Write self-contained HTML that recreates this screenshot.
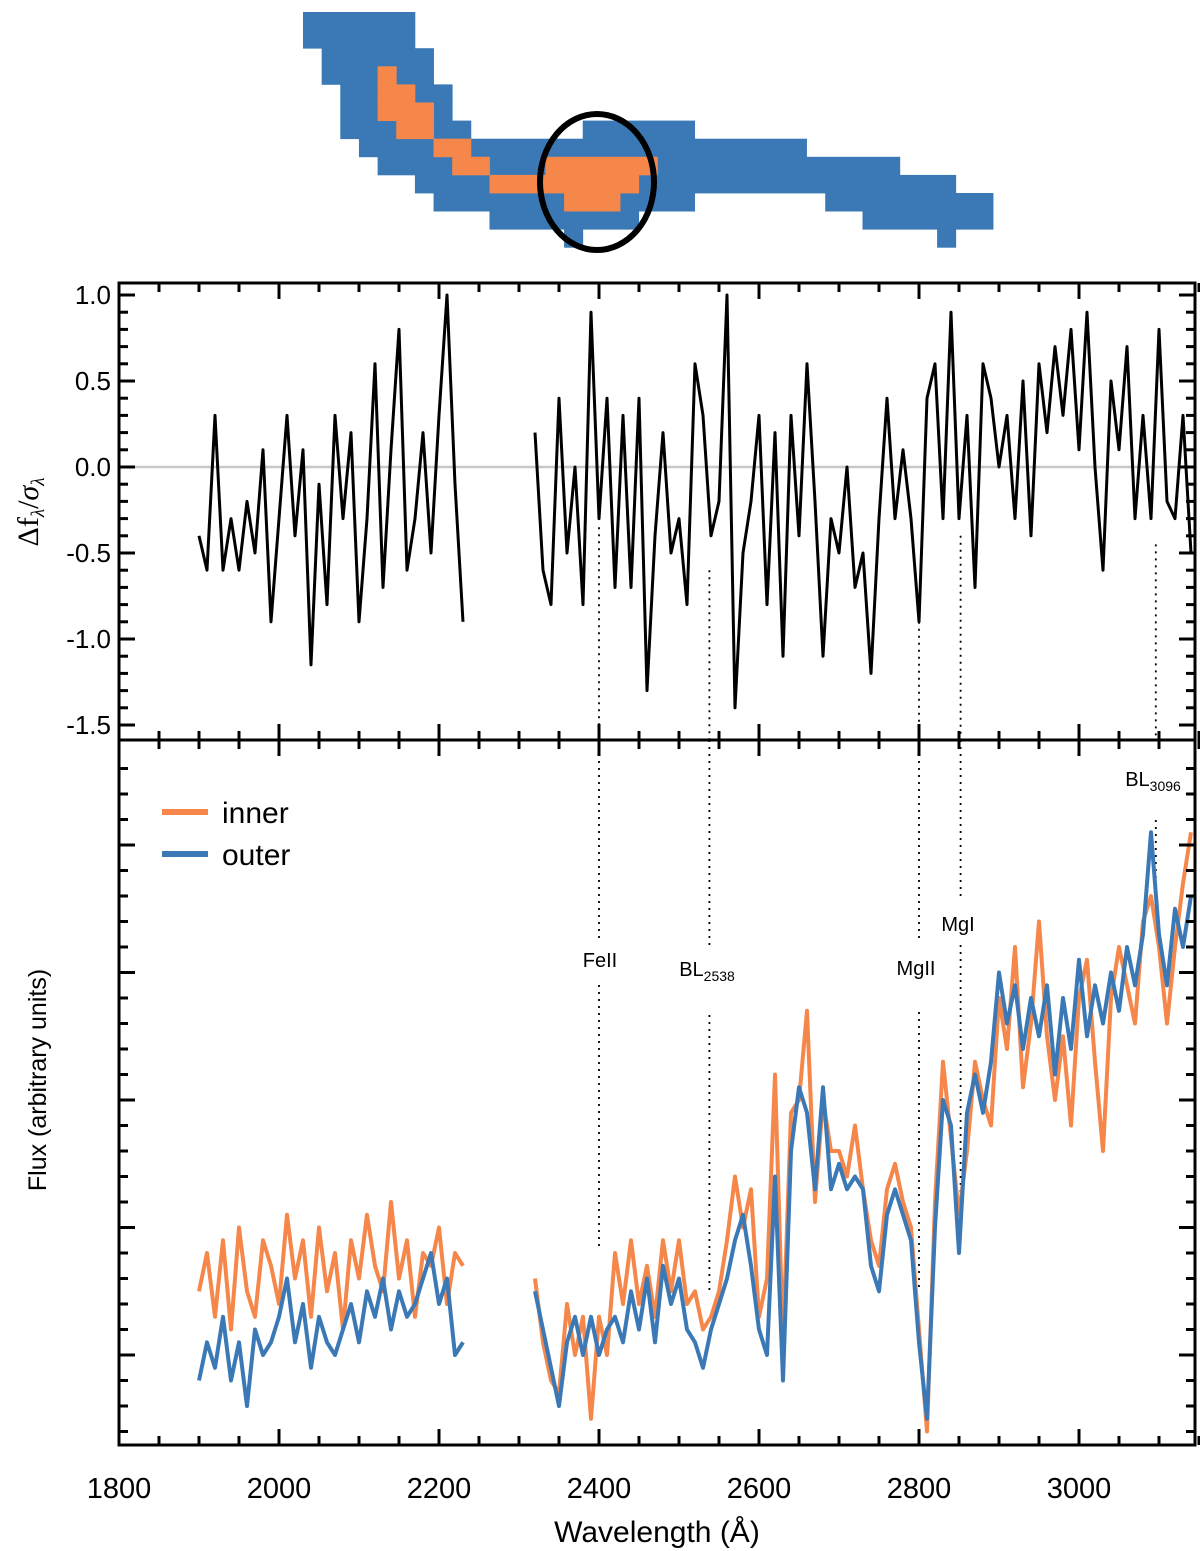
<!DOCTYPE html>
<html><head><meta charset="utf-8">
<style>
html,body{margin:0;padding:0;background:#fff;}
svg{display:block;font-family:"Liberation Sans",Arial,sans-serif;}
</style></head>
<body>
<svg id="chart" width="1200" height="1551" viewBox="0 0 1200 1551" xmlns="http://www.w3.org/2000/svg">
<g id="mask"></g>
<ellipse cx="597" cy="182" rx="57" ry="68" fill="none" stroke="#000" stroke-width="6"/>
<g id="topPanel"></g>
<g id="botPanel"></g>
<text transform="translate(38,512) rotate(-90)" text-anchor="middle" font-size="30" font-family="Liberation Serif, serif">Δf<tspan font-size="19" dy="6" font-style="italic">λ</tspan><tspan dy="-6">/</tspan><tspan font-style="italic">σ</tspan><tspan font-size="19" dy="6" font-style="italic">λ</tspan></text>
<text transform="translate(46,1080) rotate(-90)" text-anchor="middle" font-size="25">Flux (arbitrary units)</text>
<text x="657" y="1542" text-anchor="middle" font-size="30">Wavelength (Å)</text>
<g>
<line x1="162" y1="812" x2="208" y2="812" stroke="#F5874A" stroke-width="6"/>
<text x="222" y="823" font-size="30">inner</text>
<line x1="162" y1="854" x2="208" y2="854" stroke="#3B79B6" stroke-width="6"/>
<text x="222" y="865" font-size="30">outer</text>
</g>
</svg>
<script>
// ---- data ----
const wlLeft = [1900,1910,1920,1930,1940,1950,1960,1970,1980,1990,2000,2010,2020,2030,2040,2050,2060,2070,2080,2090,2100,2110,2120,2130,2140,2150,2160,2170,2180,2190,2200,2210,2220,2230];
const wlRight = [2320,2330,2340,2350,2360,2370,2380,2390,2400,2410,2420,2430,2440,2450,2460,2470,2480,2490,2500,2510,2520,2530,2540,2550,2560,2570,2580,2590,2600,2610,2620,2630,2640,2650,2660,2670,2680,2690,2700,2710,2720,2730,2740,2750,2760,2770,2780,2790,2800,2810,2820,2830,2840,2850,2860,2870,2880,2890,2900,2910,2920,2930,2940,2950,2960,2970,2980,2990,3000,3010,3020,3030,3040,3050,3060,3070,3080,3090,3100,3110,3120,3130,3140];
const residLeft = [-0.4,-0.6,0.3,-0.6,-0.3,-0.6,-0.2,-0.5,0.1,-0.9,-0.3,0.3,-0.4,0.1,-1.15,-0.1,-0.8,0.3,-0.3,0.2,-0.9,-0.3,0.6,-0.7,0.1,0.8,-0.6,-0.3,0.2,-0.5,0.3,1.0,-0.1,-0.9];
const residRight = [0.2,-0.6,-0.8,0.4,-0.5,0.0,-0.8,0.9,-0.3,0.4,-0.7,0.3,-0.7,0.4,-1.3,-0.4,0.2,-0.5,-0.3,-0.8,0.6,0.3,-0.4,-0.2,1.0,-1.4,-0.5,-0.2,0.3,-0.8,0.2,-1.1,0.3,-0.4,0.6,-0.2,-1.1,-0.3,-0.5,0.0,-0.7,-0.5,-1.2,-0.3,0.4,-0.3,0.1,-0.3,-0.9,0.4,0.6,-0.3,0.9,-0.3,0.3,-0.7,0.6,0.4,0.0,0.3,-0.3,0.5,-0.4,0.6,0.2,0.7,0.3,0.8,0.1,0.9,0.0,-0.6,0.5,0.1,0.7,-0.3,0.3,-0.3,0.8,-0.2,-0.3,0.3,-0.5];
const innerLeft = [1.5,1.8,1.3,1.9,1.2,2.0,1.5,1.3,1.9,1.7,1.4,2.1,1.6,1.9,1.3,2.0,1.5,1.8,1.2,1.9,1.6,2.1,1.7,1.5,2.2,1.6,1.9,1.3,1.8,1.7,2.0,1.4,1.8,1.7];
const outerLeft = [0.8,1.1,0.9,1.3,0.8,1.1,0.6,1.2,1.0,1.1,1.3,1.6,1.1,1.4,0.9,1.3,1.1,1.0,1.2,1.4,1.1,1.5,1.3,1.6,1.2,1.5,1.3,1.4,1.6,1.8,1.4,1.6,1.0,1.1];
const innerRight = [1.6,1.1,0.8,0.7,1.4,1.0,1.3,0.5,1.3,1.0,1.8,1.4,1.9,1.4,1.7,1.3,1.9,1.5,1.9,1.4,1.5,1.2,1.3,1.5,1.9,2.4,2.0,2.3,1.3,1.6,3.2,1.1,2.9,3.0,3.7,2.2,3.0,2.6,2.6,2.4,2.8,2.3,1.9,1.7,2.3,2.5,2.2,2.0,1.2,0.4,2.2,3.3,2.7,2.1,2.6,3.3,3.0,2.8,3.8,3.4,4.2,3.1,3.6,4.4,3.5,3.0,3.5,2.8,3.8,4.1,3.3,2.6,3.8,4.2,3.9,3.6,4.4,4.6,4.2,3.6,4.2,4.7,5.1];
const outerRight = [1.5,1.2,0.9,0.6,1.1,1.3,1.0,1.3,1.0,1.2,1.3,1.1,1.5,1.2,1.6,1.1,1.7,1.4,1.6,1.2,1.1,0.9,1.2,1.4,1.6,1.9,2.1,1.7,1.2,1.0,2.4,0.8,2.6,3.1,2.9,2.3,3.1,2.3,2.5,2.3,2.4,2.3,1.7,1.5,2.1,2.3,2.1,1.9,1.1,0.5,2.0,3.0,2.8,1.8,2.9,3.2,2.9,3.3,4.0,3.6,3.9,3.4,3.8,3.5,3.9,3.2,3.8,3.4,4.1,3.5,3.9,3.6,4.0,3.7,4.2,3.9,4.3,5.1,4.3,3.9,4.5,4.2,4.6];
const xTicks = [1800,2000,2200,2400,2600,2800,3000];
const residTicks = [-1.5,-1.0,-0.5,0.0,0.5,1.0];
const residTickLabels = ["-1.5","-1.0","-0.5","0.0","0.5","1.0"];
const lineNames = ["FeII","BL2538","MgII","MgI","BL3096"];
const lineWl = [2400,2538,2800,2852,3096];

// ---- layout ----
const X0=119, X1=1195, TOP0=283, MID=740, BOT=1445;
const xs = w => X0 + (w-1800)*0.8;
const yr = v => 467 - v*172;
const yf = f => 1355 - (f-1)*127.5;
const NS='http://www.w3.org/2000/svg';
function el(tag, attrs, parent){const e=document.createElementNS(NS,tag);for(const k in attrs)e.setAttribute(k,attrs[k]);parent.appendChild(e);return e;}

// ---- mask image ----
const maskG=document.getElementById('mask');
const blueRuns=[[0,0,5],[1,0,5],[2,1,6],[3,1,6],[4,2,7],[5,2,7],[6,2,8],[6,15,20],[7,3,26],[8,4,31],[9,6,34],[10,7,20],[10,28,36],[11,10,17],[11,30,36],[12,14,14],[12,34,34]];
const orangeRuns=[[3,4,4],[4,4,5],[5,4,6],[6,5,6],[7,7,8],[8,8,9],[8,13,18],[9,10,17],[10,14,16]];
const cw=18.65, ch=18.1, mx0=303, my0=12;
blueRuns.forEach(r=>{const e=el('rect',{x:mx0+r[1]*cw,y:my0+r[0]*ch,width:(r[2]-r[1]+1)*cw+0.4,height:ch+0.4,fill:'#3B79B6'},maskG);

});
orangeRuns.forEach(r=>{const e=el('rect',{x:mx0+r[1]*cw,y:my0+r[0]*ch,width:(r[2]-r[1]+1)*cw+0.4,height:ch+0.4,fill:'#F5874A'},maskG);

});

// ---- panels ----
const topG=document.getElementById('topPanel'), botG=document.getElementById('botPanel');
function path(wl, vals, ys, stroke, sw, parent, name){
  const d=wl.map((w,i)=>(i?'L':'M')+xs(w).toFixed(1)+','+ys(vals[i]).toFixed(1)).join('');
  const p=el('path',{d:d,fill:'none',stroke:stroke,'stroke-width':sw,'stroke-linejoin':'round'},parent);
  
  
}
const z=el('line',{x1:X0,x2:X1,y1:yr(0),y2:yr(0),stroke:'#c8c8c8','stroke-width':2.5},topG);



const topStart=[-0.35,-0.6,-0.9,-0.4,-0.45];
lineWl.forEach((w,i)=>{
  const x=xs(w);
  const a=el('line',{x1:x,x2:x,y1:yr(topStart[i]),y2:MID,stroke:'#000','stroke-width':1.8,'stroke-dasharray':'2,5'},topG);
  
  
});
const segs=[[[740,940],[985,1250]],[[740,945],[1015,1290]],[[740,943],[1012,1290]],[[740,898],[945,1198]],[[820,905]]];
lineWl.forEach((w,i)=>{
  segs[i].forEach(s=>{
    const a=el('line',{x1:xs(w),x2:xs(w),y1:s[0],y2:s[1],stroke:'#000','stroke-width':1.8,'stroke-dasharray':'2,5'},botG);
    
    
  });
});
function lab(x,y,main,sub,name){
  const t=el('text',{x:x,y:y,'text-anchor':'middle','font-size':20},botG);
  
  
  t.textContent=main;
  if(sub){const s=el('tspan',{'font-size':14,dy:5},t);s.textContent=sub;}
}
lab(600,967,'FeII','','label-feii');
lab(707,976,'BL','2538','label-bl2538');
lab(916,975,'MgII','','label-mgii');
lab(958,931,'MgI','','label-mgi');
lab(1153,786,'BL','3096','label-bl3096');

path(wlLeft,residLeft,yr,'#000',3,topG,'residual-line-left');
path(wlRight,residRight,yr,'#000',3,topG,'residual-line-right');
path(wlLeft,innerLeft,yf,'#F5874A',4,botG,'inner-spectrum-left');
path(wlRight,innerRight,yf,'#F5874A',4,botG,'inner-spectrum-right');
path(wlLeft,outerLeft,yf,'#3B79B6',4,botG,'outer-spectrum-left');
path(wlRight,outerRight,yf,'#3B79B6',4,botG,'outer-spectrum-right');

[[TOP0,MID,topG,'residual-frame'],[MID,BOT,botG,'flux-frame']].forEach(f=>{
  const r=el('rect',{x:X0,y:f[0],width:X1-X0,height:f[1]-f[0],fill:'none',stroke:'#000','stroke-width':3},f[2]);
  
  
});
const tk=el('g',{stroke:'#000','stroke-width':3},botG);


for(let w=1850;w<=3150;w+=50){
  const x=xs(w), L=(w%200===0)?16:9;
  [[TOP0,1],[MID,-1],[MID,1],[BOT,-1]].forEach(p=>el('line',{x1:x,x2:x,y1:p[0],y2:p[0]+p[1]*L},tk));
}
xTicks.forEach(w=>{
  const t=el('text',{x:xs(w),y:1498,'text-anchor':'middle','font-size':29},botG);
  
  
  t.textContent=w;
});
const ty=el('g',{stroke:'#000','stroke-width':3},topG);


for(let k=-15;k<=10;k++){
  const v=k/10, y=yr(v), L=(k%5===0)?16:9;
  el('line',{x1:X0,x2:X0+L,y1:y,y2:y},ty);
  el('line',{x1:X1,x2:X1-L,y1:y,y2:y},ty);
}
residTicks.forEach((v,i)=>{
  const t=el('text',{x:111,y:yr(v)+9,'text-anchor':'end','font-size':26},topG);
  
  
  t.textContent=residTickLabels[i];
});
const fy=el('g',{stroke:'#000','stroke-width':3},botG);


for(let k=-3;k<=23;k++){
  const y=1355-k*25.5; if(y<MID+2||y>BOT-2) continue;
  const L=(k%5===0)?16:9;
  el('line',{x1:X0,x2:X0+L,y1:y,y2:y},fy);
  el('line',{x1:X1,x2:X1-L,y1:y,y2:y},fy);
}
</script>
</body></html>
